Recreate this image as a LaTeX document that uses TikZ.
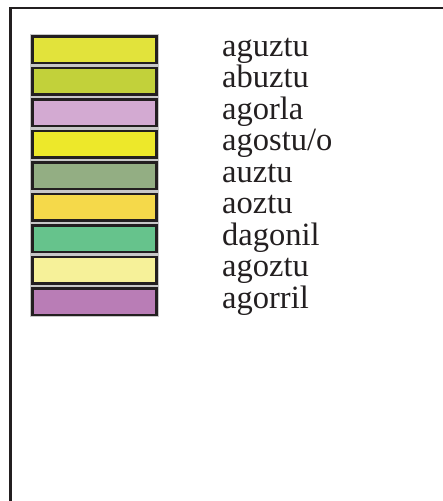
\documentclass[tikz,border=0pt]{standalone}
\usepackage{fontspec}
\setmainfont{Liberation Serif}
\definecolor{c1}{HTML}{E2E33B}
\definecolor{c2}{HTML}{C2D13A}
\definecolor{c3}{HTML}{D3AAD2}
\definecolor{c4}{HTML}{EDE82A}
\definecolor{c5}{HTML}{93AE83}
\definecolor{c6}{HTML}{F5D94A}
\definecolor{c7}{HTML}{66C38C}
\definecolor{c8}{HTML}{F6F199}
\definecolor{c9}{HTML}{B97DB6}
\definecolor{ink}{HTML}{231F20}
\tikzset{
  swatch/.style={draw=ink, line width=2.6pt, minimum width=124pt, minimum height=26.6pt, inner sep=0pt, outer sep=0pt, anchor=north west},
  halo/.style={draw=black!22, line width=3.4pt},
  lbl/.style={font=\fontsize{32.5pt}{32.5pt}\selectfont, text=ink, anchor=base west, inner sep=0pt},
  frame/.style={draw=ink, line width=2.6pt}
}
\begin{document}
\begin{tikzpicture}[x=1pt,y=-1pt]
\useasboundingbox (0,0) rectangle (443,501);
\draw[frame] (445,8) -- (10.7,8) -- (10.7,505);
\foreach \i/\c/\t in {0/c1/aguztu,1/c2/abuztu,2/c3/agorla,3/c4/agostu\slash o,4/c5/auztu,5/c6/aoztu,6/c7/dagonil,7/c8/agoztu,8/c9/agorril}{
  \draw[halo] (31.6,{35.6+31.5*\i}) rectangle (157.4,{63.4+31.5*\i});
  \node[swatch, fill=\c] (b\i) at (32.5,{36.5+31.5*\i}) {};
  \node[lbl] (t\i) at (222,{56+31.5*\i}) {\t};
}
\end{tikzpicture}
\end{document}
